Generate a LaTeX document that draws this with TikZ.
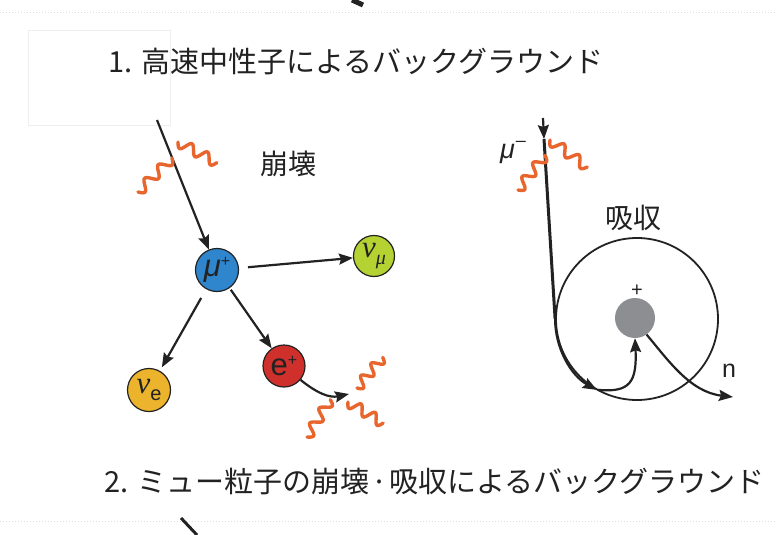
\documentclass[tikz,border=0pt]{standalone}
\usepackage{fontspec}
\setmainfont{Liberation Sans}
\newfontfamily\jp{Noto Sans CJK JP}
\newfontfamily\greekserif{Liberation Serif}
\usetikzlibrary{arrows.meta}

\definecolor{wavecol}{HTML}{E8652E}
\definecolor{mucol}{HTML}{2F86CC}
\definecolor{numucol}{HTML}{B4D232}
\definecolor{nuecol}{HTML}{EBB42C}
\definecolor{poscol}{HTML}{D0302C}
\definecolor{nuccol}{HTML}{8C8E92}
\definecolor{inkcol}{HTML}{222222}
\definecolor{faint}{HTML}{DEDEDE}
\definecolor{fainter}{HTML}{EEEEEE}

% particle symbols with raised / lowered indices
\newcommand{\bigsym}[1]{{\fontsize{31}{31}\selectfont #1}}
\newcommand{\upidx}[1]{\raisebox{10pt}{\fontsize{16}{16}\selectfont #1}}
\newcommand{\lowidx}[1]{\raisebox{-7pt}{\fontsize{20}{20}\selectfont #1}}

\tikzset{
  particle/.style={circle, draw=inkcol, line width=1.2pt, inner sep=0pt,
    minimum size=#1, text=inkcol},
  arr/.style={draw=inkcol, line width=2.2pt,
    -{Stealth[length=14pt,width=11pt,inset=2pt]}},
  wavy/.style={draw=wavecol, line width=3.4pt, line cap=round},
  jptext/.style={font=\jp\fontsize{29}{29}\selectfont, text=inkcol, inner sep=0pt},
  pics/wave/.style args={#1/#2}{code={
    \draw[wavy] plot[domain=0:#1, samples=70, variable=\s]
      (\s,{5*sin(\s/#1*#2*180)});
  }}
}

\begin{document}
\begin{tikzpicture}[x=1pt,y=-1pt]
\useasboundingbox (0,0) rectangle (776,535);

% page edges carried over from the neighbouring panels
\draw[faint, line width=1pt, dotted] (0,13) -- (776,13);
\draw[faint, line width=1pt, dotted] (0,521) -- (776,521);
\draw[fainter, line width=0.8pt] (28,30) rectangle (170,125);
\draw[inkcol, line width=5pt] (352,0) -- (363,5);
\draw[inkcol, line width=3pt] (181,518) -- (197,535);

% headings
\node[jptext, anchor=west] (title1) at (108,62) {1. 高速中性子によるバックグラウンド};
\node[jptext, anchor=west] (title2) at (104,482) {2. ミュー粒子の崩壊\kern2pt·\kern2pt吸収によるバックグラウンド};

% ---------- muon decay ----------
\node[jptext, font=\jp\fontsize{28}{28}\selectfont] (decay) at (288,164) {崩壊};

\node[particle=43pt, fill=mucol] (mup) at (217,270)
  {\bigsym{\textit{μ}}\upidx{+}};
\node[particle=41pt, fill=numucol] (numu) at (374,256)
  {\bigsym{\greekserif\itshape ν}\lowidx{\greekserif\itshape μ}};
\node[particle=43pt, fill=nuecol] (nue) at (149,390)
  {\bigsym{\greekserif\itshape ν}\lowidx{e}};
\node[particle=42pt, fill=poscol] (eplus) at (284,366)
  {\bigsym{e}\upidx{+}};

\coordinate (muin) at (157,120);
\coordinate (eout) at (349,394);

\draw[arr] (muin) -- (mup);
\draw[arr, shorten <=9pt] (mup) -- (numu);
\draw[arr, shorten <=10pt, shorten >=4pt] (mup) -- (nue);
\draw[arr, shorten <=2pt] (mup) -- (eplus);
\draw[arr] (eplus.-40) .. controls (318,394) and (330,398) .. (eout);

% gamma rays
\pic[rotate=45] at (138,192) {wave=48/5};
\pic[rotate=-28] at (178,142) {wave=44/5};
\pic[rotate=58] at (307,437) {wave=44/5};
\pic[rotate=50] at (357,388) {wave=40/5};
\pic[rotate=-31] at (348,402) {wave=41/5};

% ---------- muon capture ----------
\node[jptext, font=\jp\fontsize{28}{28}\selectfont] (capture) at (633,218) {吸収};

\node[circle, draw=inkcol, line width=1.8pt, minimum size=162pt, inner sep=0pt] (orbit) at (637,319) {};
\node[circle, fill=nuccol, minimum size=40pt, inner sep=0pt] (nucleus) at (635,318) {};
\node[font=\fontsize{20}{20}\selectfont, text=inkcol] (charge) at (637,291) {+};

\coordinate (mutop) at (543,118);
\coordinate (mumid) at (544,139);
\coordinate (trap) at (597.7,389.8);
\coordinate (nout) at (733,397);

\node[text=inkcol] (mulab) at (513,153)
  {{\fontsize{27}{27}\selectfont\textit{μ}}\kern1pt\raisebox{12pt}{\fontsize{18}{18}\selectfont –}};
\node[font=\fontsize{25}{25}\selectfont, text=inkcol] (nlab) at (729,371) {n};

\draw[arr] (mutop) -- (mumid);
\draw[draw=inkcol, line width=3pt] (mumid) -- (orbit.west);
\draw[arr] (orbit.west) arc[start angle=180, end angle=119, radius=81];
\draw[arr] (trap) .. controls (630,393) and (637,382) .. (nucleus.south);
\draw[arr] (nucleus.-55) .. controls (668,360) and (690,392) .. (nout);

\pic[rotate=52] at (518,190) {wave=44/5};
\pic[rotate=-36] at (550,140) {wave=46/5};
\end{tikzpicture}
\end{document}
